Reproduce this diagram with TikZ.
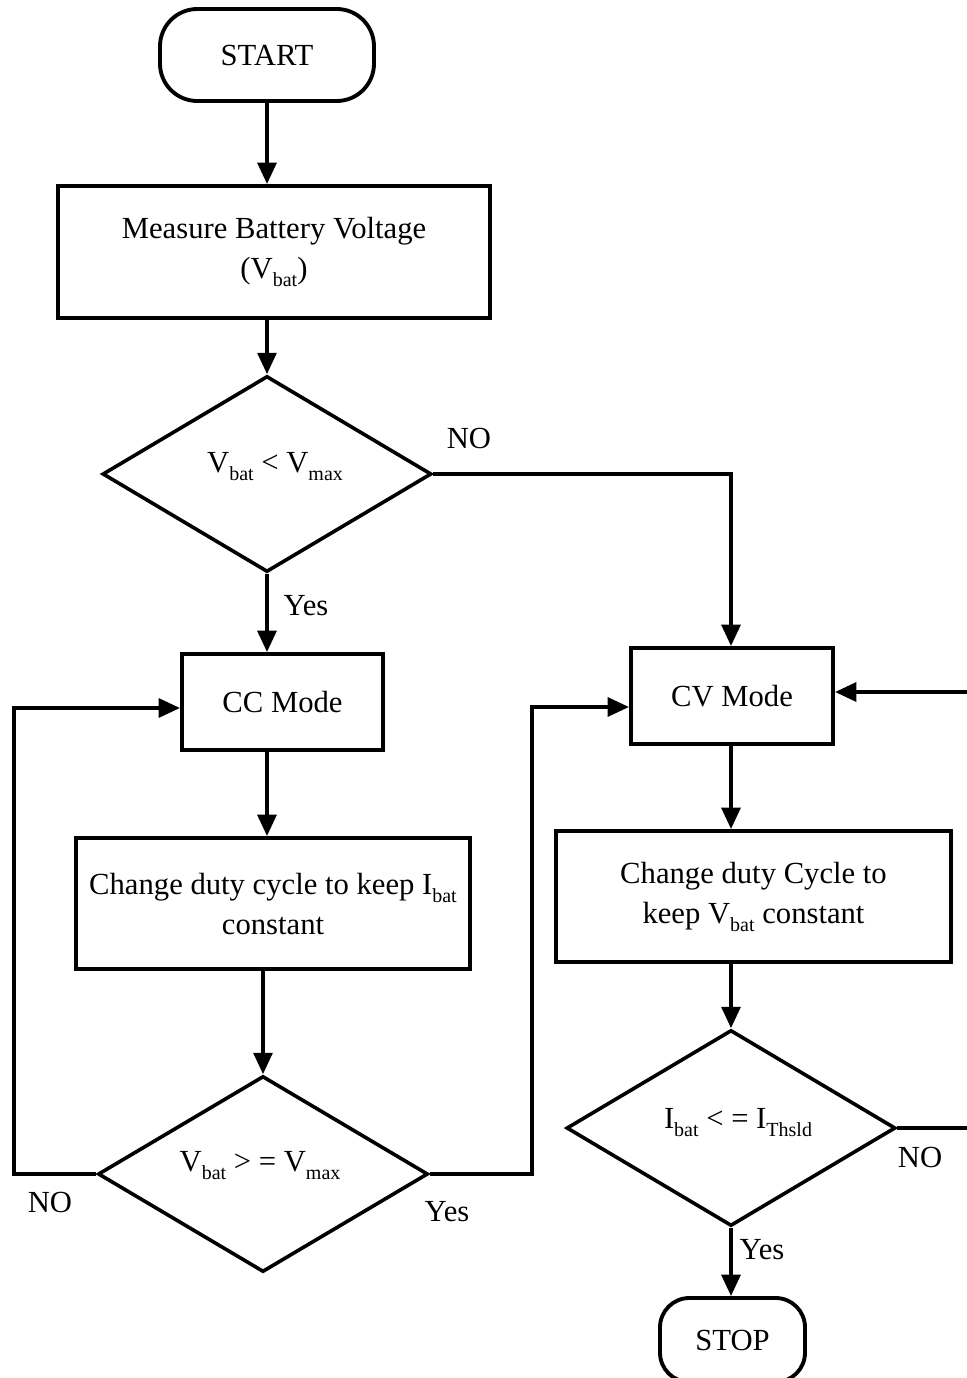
\documentclass[tikz,border=0pt]{standalone}
\usepackage{fontspec}
\setmainfont{Liberation Serif}
\usetikzlibrary{shapes.geometric,arrows.meta}
\newcommand\lsub[1]{\raisebox{-6pt}{\fontsize{15}{15}\selectfont #1}}
\begin{document}
\begin{tikzpicture}[x=0.75pt,y=-0.75pt,
  every node/.style={font=\fontsize{23}{30}\selectfont, inner sep=0pt},
  box/.style={draw, line width=2.9pt, rectangle, align=center},
  term/.style={draw, line width=2.9pt, rectangle, rounded corners=28pt},
  dec/.style={draw, line width=2.7pt, diamond, aspect=1.68},
  arr/.style={line width=2.9pt, -{Triangle[length=16pt,width=14pt]}},
  ln/.style={line width=2.9pt}]
\useasboundingbox (0,0) rectangle (967,1378);
% nodes
\node[term, minimum width=160.5pt, minimum height=69pt] (start) at (267,55) {START};
\node[box, minimum width=324pt, minimum height=99pt] (meas) at (274,252) {Measure Battery Voltage\\(V\lsub{bat})};
\node[dec, minimum width=246.75pt, minimum height=147pt] (d1) at (267,474) {};
\node (d1t) at (275,467) {V\lsub{bat} < V\lsub{max}};
\node[box, minimum width=150.75pt, minimum height=72pt] (cc) at (282.5,702) {CC Mode};
\node[box, minimum width=295.5pt, minimum height=98.25pt] (b2) at (273,903.5) {Change duty cycle to keep I\lsub{bat}\\constant};
\node[dec, minimum width=247.5pt, minimum height=147pt] (d2) at (263,1174) {};
\node (d2t) at (260,1166) {V\lsub{bat} > = V\lsub{max}};
\node[box, minimum width=151.5pt, minimum height=72pt] (cv) at (732,696) {CV Mode};
\node[box, minimum width=296.25pt, minimum height=98.25pt] (b3) at (753.5,896.5) {Change duty Cycle to\\keep V\lsub{bat} constant};
\node[dec, minimum width=246.75pt, minimum height=147pt] (d3) at (731,1128) {};
\node (d3t) at (738,1123) {I\lsub{bat} < = I\lsub{Thsld}};
\node[term, rounded corners=22pt, minimum width=108.75pt, minimum height=63pt] (stop) at (732.5,1340) {STOP};
% labels
\node (lno1) at (469,438) {NO};
\node (lyes1) at (306,606) {Yes};
\node (lno2) at (50,1202) {NO};
\node (lyes2) at (447,1212) {Yes};
\node (lno3) at (920,1157) {NO};
\node (lyes3) at (762,1250) {Yes};
% coordinates
\coordinate (xl) at (267,0);
\coordinate (xl2) at (263,0);
\coordinate (xr) at (731,0);
\coordinate (lp) at (14,708);
\coordinate (rp) at (532,707);
\coordinate (re) at (967,692);
\coordinate (d3e) at (967,1128);
% connectors
\draw[arr] (start.south -| xl) -- (meas.north -| xl);
\draw[arr] (meas.south -| xl) -- (d1.north);
\draw[arr] (d1.south) -- (cc.north -| xl);
\draw[arr] (cc.south -| xl) -- (b2.north -| xl);
\draw[arr] (b2.south -| xl2) -- (d2.north);
\draw[arr] (d1.east) -| (cv.north -| xr);
\draw[arr] (d2.west) -| (lp) -- (lp -| cc.west);
\draw[arr] (d2.east) -| (rp) -- (rp -| cv.west);
\draw[arr] (re) -- (re -| cv.east);
\draw[arr] (cv.south -| xr) -- (b3.north -| xr);
\draw[arr] (b3.south -| xr) -- (d3.north);
\draw[ln] (d3.east) -- (d3e);
\draw[arr] (d3.south) -- (stop.north -| d3.south);
\end{tikzpicture}
\end{document}
